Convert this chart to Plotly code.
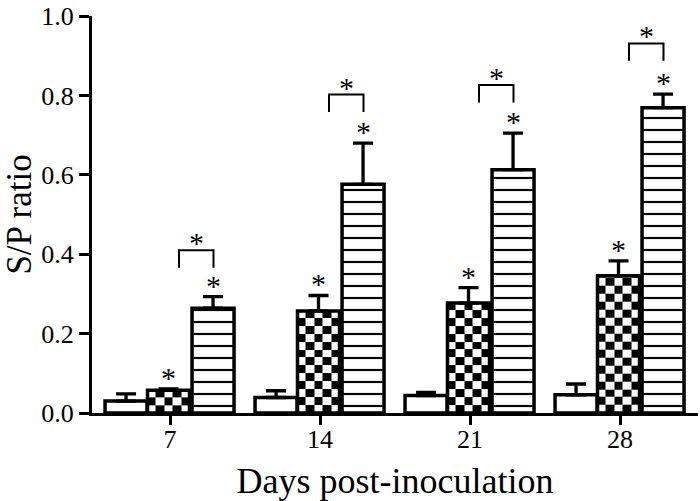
import plotly.graph_objects as go
import numpy as np

# ---- data ----
days = ["7", "14", "21", "28"]
ctrl_vals = [0.030, 0.039, 0.044, 0.046]
ctrl_err = [0.018, 0.017, 0.008, 0.027]
chk_vals = [0.057, 0.257, 0.277, 0.346]
chk_err = [0.004, 0.039, 0.039, 0.037]
hor_vals = [0.264, 0.576, 0.613, 0.769]
hor_err = [0.029, 0.104, 0.092, 0.034]
chk_sig = [True, True, True, True]
hor_sig = [True, True, True, True]
bracket_y = [0.410, 0.802, 0.826, 0.931]

# ---- styling constants ----
FONT = "Liberation Serif, Times New Roman, serif"
BW = 0.28
OFF_CTRL, OFF_CHK, OFF_HOR = -0.433, -0.15, 0.147
LW = 3.5
pos = list(range(len(days)))

fig = go.Figure()

# checkerboard fill for the middle series (drawn under the bars)
ncols = 5
cell_h = 0.02
for i, v in zip(pos, chk_vals):
    xe = np.linspace(i + OFF_CHK, i + OFF_CHK + BW, ncols + 1)
    nrows = int(np.ceil(v / cell_h))
    ye = [min(r * cell_h, v) for r in range(nrows + 1)]
    z = [[(r + c) % 2 for c in range(ncols)] for r in range(nrows)]
    fig.add_trace(go.Heatmap(x=xe, y=ye, z=z, zmin=0, zmax=1,
                             colorscale=[[0, "white"], [1, "black"]],
                             showscale=False, hoverinfo="skip"))

def err(arr):
    return dict(type="data", array=arr, arrayminus=[0] * len(arr), symmetric=False,
                color="black", thickness=3.3, width=10)

fig.add_trace(go.Bar(x=pos, y=ctrl_vals, width=BW, offset=OFF_CTRL,
                     marker=dict(color="white", line=dict(color="black", width=LW)),
                     error_y=err(ctrl_err), name="control"))
fig.add_trace(go.Bar(x=pos, y=chk_vals, width=BW, offset=OFF_CHK,
                     marker=dict(color="rgba(0,0,0,0)", line=dict(color="black", width=LW)),
                     error_y=err(chk_err), name="group 2"))
fig.add_trace(go.Bar(x=pos, y=hor_vals, width=BW, offset=OFF_HOR,
                     marker=dict(color="white", line=dict(color="black", width=LW),
                                 pattern=dict(shape="-", fgcolor="black", bgcolor="white",
                                              fgopacity=1, size=12, solidity=0.18,
                                              fillmode="overlay")),
                     error_y=err(hor_err), name="group 3"))

# comparison brackets
for i, b in zip(pos, bracket_y):
    x0, x1 = i + 0.06, i + 0.29
    fig.add_trace(go.Scatter(x=[x0, x0, x1, x1], y=[b - 0.044, b, b, b - 0.044],
                             mode="lines", line=dict(color="black", width=2),
                             hoverinfo="skip", showlegend=False))

annotations = []
star = dict(text="*", showarrow=False, font=dict(family=FONT, size=30, color="black"),
            yanchor="bottom", xanchor="center", yshift=-7)
for i in pos:
    if chk_sig[i]:
        annotations.append(dict(star, x=i + OFF_CHK + BW / 2, y=chk_vals[i] + chk_err[i]))
    if hor_sig[i]:
        annotations.append(dict(star, x=i + OFF_HOR + BW / 2, y=hor_vals[i] + hor_err[i]))
    annotations.append(dict(star, x=i + 0.175, y=bracket_y[i], yshift=-11))

fig.update_layout(
    width=700, height=501,
    margin=dict(l=92, r=2, t=12, b=88),
    paper_bgcolor="white", plot_bgcolor="white",
    showlegend=False, barmode="overlay",
    font=dict(family=FONT, color="black"),
    annotations=annotations,
    xaxis=dict(range=[-0.52, 3.52], tickmode="array", tickvals=pos, ticktext=days,
               showgrid=False, zeroline=False, showline=True, linecolor="black", linewidth=3,
               ticks="outside", ticklen=9, tickwidth=3, tickcolor="black",
               ticklabelstandoff=-8,
               tickfont=dict(family=FONT, size=26, color="black"),
               title=dict(text="Days post-inoculation", standoff=17,
                          font=dict(family=FONT, size=36, color="black"))),
    yaxis=dict(range=[0, 1], tickvals=[0, 0.2, 0.4, 0.6, 0.8, 1.0],
               ticktext=["0.0", "0.2", "0.4", "0.6", "0.8", "1.0"],
               ticklabeloverflow="allow",
               showgrid=False, zeroline=False, showline=True, linecolor="black", linewidth=3,
               ticks="outside", ticklen=10, tickwidth=3, tickcolor="black",
               tickfont=dict(family=FONT, size=26, color="black"),
               title=dict(text="S/P ratio", standoff=6,
                          font=dict(family=FONT, size=35, color="black"))),
)

fig.write_html("out.html", config={"displayModeBar": False},
               post_script="document.body.style.margin='0';")
